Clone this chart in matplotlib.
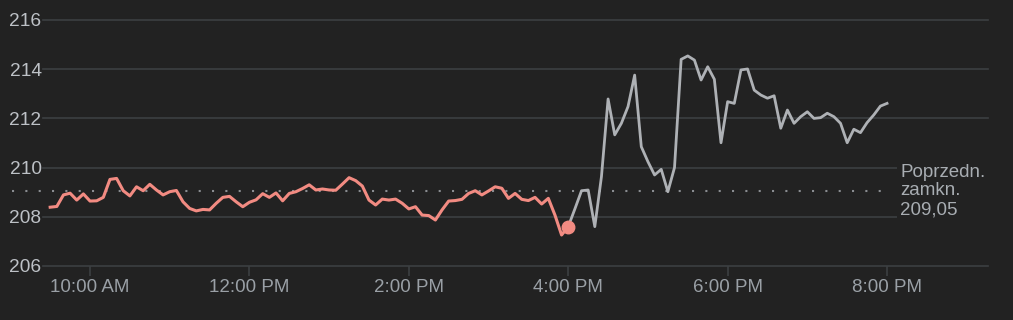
import numpy as np
import matplotlib
matplotlib.use("Agg")
import matplotlib.pyplot as plt
from matplotlib.patches import Rectangle

# ---- data ----
session_start_min = 9 * 60 + 30   # 9:30 AM, minutes from midnight
step_min = 5

regular_prices = [
    208.39, 208.42, 208.89, 208.96, 208.68, 208.93,
    208.64, 208.65, 208.79, 209.52, 209.56, 209.06, 208.85, 209.22, 209.06, 209.32, 209.09, 208.89,
    209.02, 209.07, 208.61, 208.34, 208.24, 208.30, 208.28, 208.55, 208.79, 208.83, 208.61, 208.41,
    208.59, 208.69, 208.94, 208.79, 208.97, 208.65, 208.95, 209.02, 209.15, 209.30, 209.09, 209.13,
    209.09, 209.08, 209.33, 209.59, 209.47, 209.25, 208.68, 208.48, 208.72, 208.68, 208.72, 208.55,
    208.32, 208.41, 208.07, 208.05, 207.87, 208.28, 208.64, 208.66, 208.71, 208.95, 209.06, 208.89,
    209.05, 209.22, 209.16, 208.75, 208.95, 208.71, 208.66, 208.79, 208.52, 208.75, 208.07, 207.26,
    207.60,
]

after_prices = [
    207.60, 208.32, 209.06, 209.09, 207.60, 209.63, 212.79, 211.33, 211.80, 212.48, 213.76, 210.85,
    210.24, 209.70, 209.93, 209.02, 210.00, 214.40, 214.54, 214.37, 213.56, 214.10, 213.59, 211.01,
    212.68, 212.61, 213.97, 214.01, 213.15, 212.95, 212.82, 212.92, 211.60, 212.34, 211.80, 212.07,
    212.27, 212.00, 212.03, 212.21, 212.07, 211.80, 211.01, 211.56, 211.42, 211.83, 212.14, 212.50,
    212.61,
]

prev_close = 209.05
prev_close_label = "Poprzedn.\nzamkn.\n209,05"

y_ticks = [206, 208, 210, 212, 214, 216]
x_tick_minutes = [600, 720, 840, 960, 1080, 1200]
x_tick_labels = ["10:00 AM", "12:00 PM", "2:00 PM", "4:00 PM", "6:00 PM", "8:00 PM"]

# ---- styles ----
BG = "#222222"
GRID = "#3c3f42"
RED = "#f28b82"
GRAY = "#aeb1b5"
XTXT = "#9aa0a6"
YTXT = "#bdc1c6"
FONT = "Liberation Sans"

plt.rcParams["font.family"] = [FONT, "DejaVu Sans"]

t_reg = session_start_min + step_min * np.arange(len(regular_prices))
t_after = t_reg[-1] + step_min * np.arange(len(after_prices))

W, H = 1013, 320
fig = plt.figure(figsize=(W / 100, H / 100), dpi=100)
fig.patch.set_facecolor(BG)
ax = fig.add_axes([43 / W, 54 / H, 945 / W, 246 / H])
ax.set_facecolor(BG)

ax.set_xlim(564.6, 1276.0)
ax.set_ylim(206, 216)

for s in ax.spines.values():
    s.set_visible(False)

ax.set_yticks(y_ticks)
ax.set_yticklabels([str(v) for v in y_ticks])
ax.grid(axis="y", color=GRID, lw=1.2)
for gl in ax.get_ygridlines():
    gl.set_clip_on(False)
ax.tick_params(axis="y", length=0, pad=1, labelsize=13.8, labelcolor=YTXT)

ax.set_xticks(x_tick_minutes)
ax.set_xticklabels(x_tick_labels)
ax.tick_params(axis="x", direction="out", length=7.5, width=1.2, color=GRID,
               pad=1.5, labelsize=13.5, labelcolor=XTXT)

# previous close dotted line
ax.plot([-0.0328, 0.8963], [prev_close, prev_close], transform=ax.get_yaxis_transform(),
        clip_on=False, color="#8a8d91", lw=1.5, linestyle=(0, (1, 5.4)), zorder=2)

ax.plot(t_after, after_prices, color=GRAY, lw=2.0, zorder=3)
ax.plot(t_reg, regular_prices, color=RED, lw=2.2, zorder=4)
ax.plot([t_reg[-1]], [regular_prices[-1]], "o", ms=9, color=RED, zorder=5)

# background panel behind the previous-close label (hides gridlines there)
ax.add_patch(Rectangle((0.904, 0.175), 0.1, 0.26, transform=ax.transAxes,
                       facecolor=BG, edgecolor="none", zorder=5.5, clip_on=False))
ax.text(0.9069, prev_close, prev_close_label, transform=ax.get_yaxis_transform(),
        ha="left", va="center", fontsize=13.5, color="#a8adb2", linespacing=1.15,
        zorder=6, clip_on=False)

fig.savefig("out.png", dpi=100, facecolor=BG)
